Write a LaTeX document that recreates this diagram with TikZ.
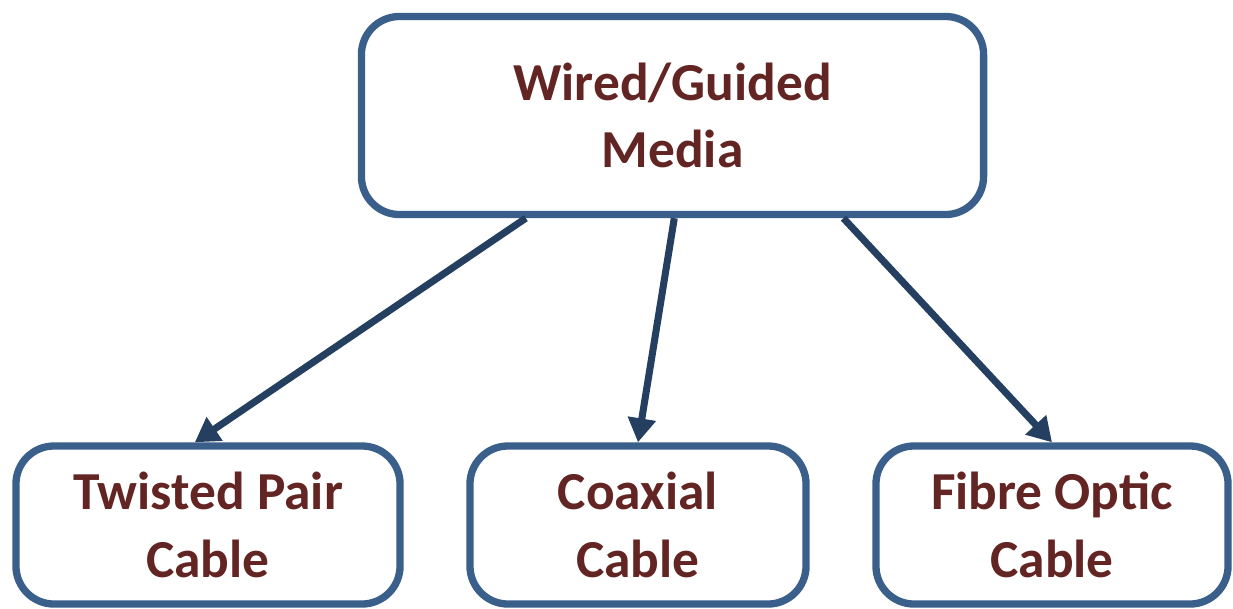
\documentclass[tikz,border=0pt]{standalone}
\usepackage{fontspec}
\setmainfont{Carlito}
\usepackage{xcolor}
\usepackage{tikz}
\usetikzlibrary{arrows.meta, positioning}
\definecolor{boxline}{HTML}{3A5F8B}
\definecolor{arrowline}{HTML}{243F60}
\definecolor{labeltext}{HTML}{632523}

\begin{document}
\begin{tikzpicture}[x=0.025cm, y=-0.025cm,
    media/.style={rectangle, draw=boxline, line width=5.2pt, rounded corners=0.95cm, align=center,
        font=\fontsize{38}{48}\selectfont\bfseries, text=labeltext, fill=white},
    link/.style={draw=arrowline, line width=5pt, -{Triangle[length=0.6cm, width=0.68cm]}}
]
    \useasboundingbox (0,0) rectangle (1233,608);

    % Media boxes
    \node[media, minimum width=15.55cm, minimum height=4.95cm] (wired) at (672.5,115.5) {Wired/Guided\\Media};

    \node[media, minimum width=9.6cm, minimum height=3.95cm] (twisted) at (208,525) {Twisted Pair\\Cable};
    \node[media, minimum width=8.4cm, minimum height=3.95cm] (coax) at (638,525) {Coaxial\\Cable};
    \node[media, minimum width=8.8cm, minimum height=3.95cm] (fibre) at (1052,525) {Fibre Optic\\Cable};

    % Connections
    \draw[link] (wired.215) -- ([xshift=-0.33cm]twisted.north);
    \draw[link] (wired.271.4) -- (coax.north);
    \draw[link] (wired.329.5) -- (fibre.north);
\end{tikzpicture}
\end{document}
